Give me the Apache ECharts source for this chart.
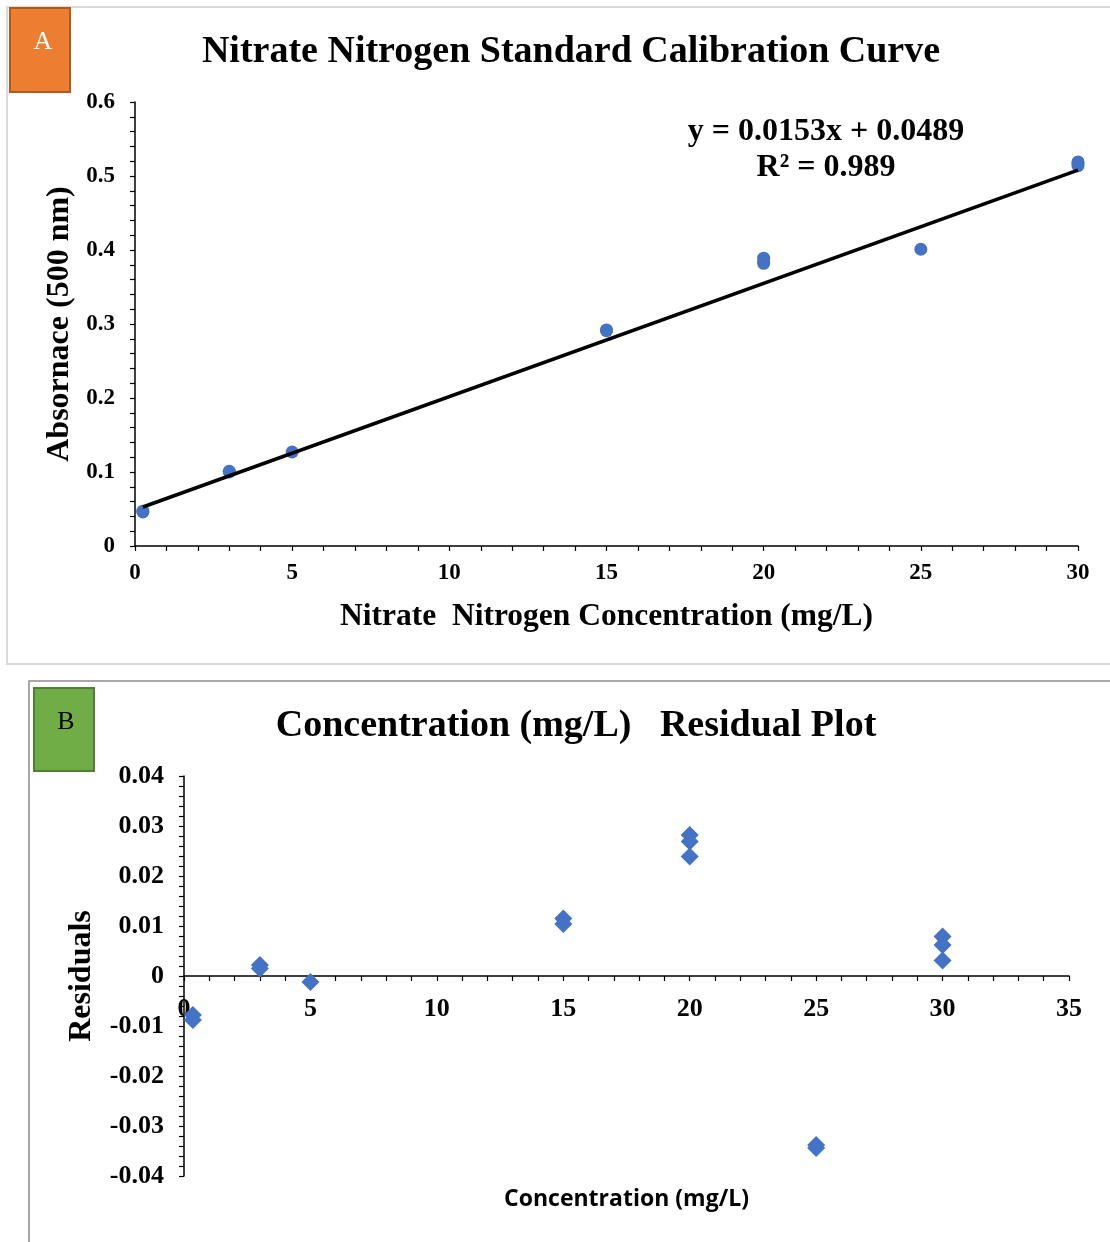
<!DOCTYPE html>
<html>
<head>
<meta charset="utf-8">
<script src="https://cdn.jsdelivr.net/npm/echarts@6/dist/echarts.min.js"></script>
<style>
html,body{margin:0;padding:0;background:#fff;}
#chart{width:1110px;height:1242px;}
</style>
</head>
<body>
<div id="chart"></div>
<script>
// ---- Data ----
const concA = [0.25, 0.25, 3, 3, 5, 15, 15, 20, 20, 20, 25, 30, 30, 30];
const absorbance = [0.047, 0.046, 0.101, 0.100, 0.127, 0.292, 0.291, 0.389, 0.384, 0.382, 0.401, 0.519, 0.517, 0.514];
const slope = 0.0153;
const intercept = 0.0489;
const rSquared = 0.989;

const concB = [0.35, 0.35, 3, 3, 5, 15, 15, 20, 20, 20, 25, 25, 30, 30, 30];
const residuals = [-0.0078, -0.0088, 0.0022, 0.0015, -0.0012, 0.0115, 0.0104, 0.0282, 0.0269, 0.0239, -0.0338, -0.0344, 0.0079, 0.0062, 0.0031];

const titleA = 'Nitrate Nitrogen Standard Calibration Curve';
const titleB = 'Concentration (mg/L)   Residual Plot';
const xNameA = 'Nitrate  Nitrogen Concentration (mg/L)';
const yNameA = 'Absornace (500 nm)';
const xNameB = 'Concentration (mg/L)';
const yNameB = 'Residuals';

// ---- Build ----
const serif = '"Liberation Serif", "Times New Roman", serif';
const blue = '#4472c4';
const pointsA = concA.map((x, i) => [x, absorbance[i]]);
const pointsB = concB.map((x, i) => [x, residuals[i]]);
const xFirst = Math.min(...concA), xLast = Math.max(...concA);
const trend = [[xFirst, slope * xFirst + intercept], [xLast, slope * xLast + intercept]];

function axisCommon(fontSize) {
  return {
    axisLine: {show: true, onZero: false, lineStyle: {color: '#000', width: 1.5}},
    axisTick: {show: true, inside: false, length: 5, lineStyle: {color: '#000', width: 1.2}},
    minorTick: {show: true, splitNumber: 5, length: 5, lineStyle: {color: '#000', width: 1.2}},
    splitLine: {show: false},
    minorSplitLine: {show: false},
    axisLabel: {color: '#000', fontFamily: serif, fontWeight: 'bold', fontSize: fontSize},
    nameTextStyle: {color: '#000', fontFamily: serif, fontWeight: 'bold'}
  };
}

const chart = echarts.init(document.getElementById('chart'), null, {renderer: 'canvas'});
const xA = axisCommon(23), yA = axisCommon(23), xB = axisCommon(26), yB = axisCommon(26);

// grid B geometry: residual axis spans -0.04..0.04 over 400 px, so zero sits 200 px above the bottom
const gridBHeight = 400;
const zeroOffsetB = -gridBHeight / 2;

const option = {
  animation: false,
  backgroundColor: '#fff',
  title: [
    {text: titleA, left: 566, top: 28, textAlign: 'center',
     textStyle: {fontFamily: serif, fontWeight: 'bold', fontSize: 38, color: '#000'}},
    {text: titleB, left: 571, top: 702, textAlign: 'center',
     textStyle: {fontFamily: serif, fontWeight: 'bold', fontSize: 38, color: '#000'}}
  ],
  grid: [
    {left: 135, top: 102, width: 943, height: 444, outerBoundsMode: 'none', containLabel: false},
    {left: 184, top: 776, width: 885, height: gridBHeight, outerBoundsMode: 'none', containLabel: false}
  ],
  xAxis: [
    Object.assign(xA, {gridIndex: 0, type: 'value', min: 0, max: 30, interval: 5,
      name: xNameA, nameLocation: 'middle', nameGap: 55,
      nameTextStyle: Object.assign(xA.nameTextStyle, {fontSize: 31.5}),
      axisLabel: Object.assign(xA.axisLabel, {margin: 16})}),
    Object.assign(xB, {gridIndex: 1, type: 'value', min: 0, max: 35, interval: 5,
      position: 'bottom', offset: zeroOffsetB,
      name: xNameB, nameLocation: 'middle', nameGap: 212,
      nameTextStyle: {color: '#000', fontFamily: '"Open Sans", sans-serif', fontWeight: 'bold', fontSize: 23},
      axisLabel: Object.assign(xB.axisLabel, {margin: 20})})
  ],
  yAxis: [
    Object.assign(yA, {gridIndex: 0, type: 'value', min: 0, max: 0.6, interval: 0.1,
      name: yNameA, nameLocation: 'middle', nameGap: 57, nameRotate: 90,
      nameTextStyle: Object.assign(yA.nameTextStyle, {fontSize: 32}),
      axisLabel: Object.assign(yA.axisLabel, {margin: 20})}),
    Object.assign(yB, {gridIndex: 1, type: 'value', min: -0.04, max: 0.04, interval: 0.01,
      name: yNameB, nameLocation: 'middle', nameGap: 86, nameRotate: 90,
      nameTextStyle: Object.assign(yB.nameTextStyle, {fontSize: 32}),
      axisLabel: Object.assign(yB.axisLabel, {margin: 20})})
  ],
  series: [
    {type: 'line', xAxisIndex: 0, yAxisIndex: 0, data: trend, showSymbol: false,
     lineStyle: {color: '#000', width: 3.5}, z: 3},
    {type: 'scatter', xAxisIndex: 0, yAxisIndex: 0, data: pointsA, symbol: 'circle',
     symbolSize: 13, itemStyle: {color: blue, opacity: 1}, z: 2},
    {type: 'scatter', xAxisIndex: 1, yAxisIndex: 1, data: pointsB, symbol: 'diamond',
     symbolSize: 18, itemStyle: {color: blue, opacity: 1}, z: 2}
  ],
  graphic: [
    {type: 'rect', shape: {x: 7, y: 7, width: 1110, height: 657}, z: -10,
     style: {fill: 'none', stroke: '#d9d9d9', lineWidth: 2}},
    {type: 'rect', shape: {x: 29, y: 681, width: 1100, height: 620}, z: -10,
     style: {fill: 'none', stroke: '#8c8c8c', lineWidth: 1.5}},
    {type: 'rect', shape: {x: 10, y: 8, width: 60, height: 84}, z: 10,
     style: {fill: '#ed7d31', stroke: '#ae5a21', lineWidth: 2}},
    {type: 'text', x: 43, y: 42, z: 11,
     style: {text: 'A', fill: '#fff', font: '26px ' + serif, textAlign: 'center', textVerticalAlign: 'middle'}},
    {type: 'rect', shape: {x: 34, y: 688, width: 60, height: 83}, z: 10,
     style: {fill: '#70ad47', stroke: '#507e32', lineWidth: 2}},
    {type: 'text', x: 66, y: 722, z: 11,
     style: {text: 'B', fill: '#000', font: '26px ' + serif, textAlign: 'center', textVerticalAlign: 'middle'}},
    {type: 'text', x: 826, y: 132, z: 11,
     style: {text: 'y = ' + slope + 'x + ' + intercept, fill: '#000', font: 'bold 32px ' + serif,
             textAlign: 'center', textVerticalAlign: 'middle'}},
    {type: 'text', x: 826, y: 168, z: 11,
     style: {text: 'R\u00b2 = ' + rSquared, fill: '#000', font: 'bold 32px ' + serif,
             textAlign: 'center', textVerticalAlign: 'middle'}}
  ]
};
chart.setOption(option);
</script>
</body>
</html>
